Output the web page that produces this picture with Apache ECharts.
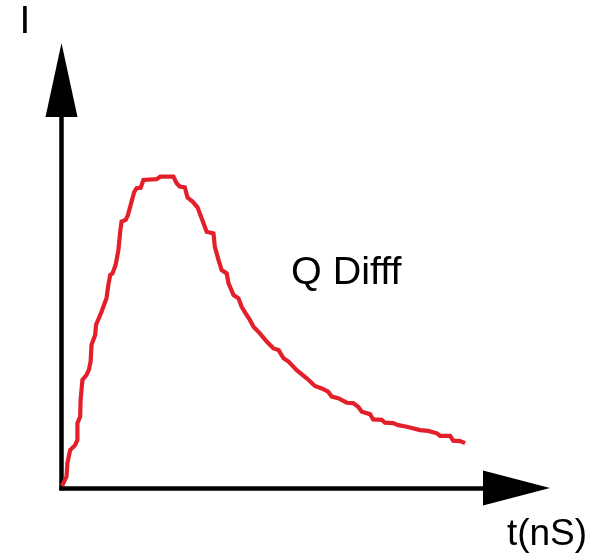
<!DOCTYPE html>
<html>
<head>
<meta charset="utf-8">
<script src="https://cdn.jsdelivr.net/npm/echarts@6/dist/echarts.min.js"></script>
<style>html,body{margin:0;padding:0;background:#fff;}#c{width:604px;height:560px;}</style>
</head>
<body>
<div id="c"></div>
<script>
// time (ns, arbitrary units) and current (arbitrary units)
var tValues = [0.1,1.1,1.3,1.9,3.0,3.5,3.5,4.1,4.2,4.6,5.5,6.0,6.4,6.6,7.4,7.6,8.8,9.9,10.3,10.7,11.2,11.9,12.5,12.9,13.2,14.1,14.6,15.4,16.0,16.5,17.4,18.0,20.9,21.7,24.6,25.3,26.0,27.1,27.7,28.8,29.9,30.8,31.9,33.4,33.7,34.5,35.2,36.3,36.7,37.8,38.9,39.6,40.7,41.4,42.2,43.6,45.1,46.6,47.7,48.8,49.9,51.7,53.9,55.7,57.2,58.6,59.4,60.8,62.7,64.1,65.2,66.0,67.8,68.5,70.4,71.1,72.9,74.0,75.9,78.8,80.6,82.5,83.2,85.4,86.1,87.6,88.7];
var iValues = [0.5,2.8,6.1,9.3,10.5,11.8,15.9,17.5,21.6,26.5,27.7,28.9,31.0,35.1,37.5,40.0,43.2,46.6,49.8,52.2,52.6,54.7,58.3,62.8,65.3,65.7,66.9,70.2,72.6,73.5,73.6,75.5,75.7,76.3,76.3,74.7,73.9,73.7,71.2,70.2,68.8,66.1,62.8,62.4,59.1,55.9,53.4,52.6,50.2,47.3,46.5,44.4,42.4,41.2,39.5,37.9,35.9,34.2,33.8,31.8,31.0,28.9,26.9,25.0,24.4,23.6,22.4,22.0,20.9,20.8,19.9,18.7,18.1,16.8,16.7,16.0,15.9,15.4,15.0,14.2,14.0,13.4,12.8,12.8,11.6,11.5,11.0];
var yLabel = 'I';
var xLabel = 't(nS)';
var curveLabel = 'Q Difff';

var data = tValues.map(function (t, k) { return [t, iValues[k]]; });
var font = '"Liberation Sans", Arial, sans-serif';

var chart = echarts.init(document.getElementById('c'), null, {renderer: 'canvas'});
chart.setOption({
  animation: false,
  backgroundColor: '#ffffff',
  grid: {left: 61.5, right: 87.5, top: 80, bottom: 72, containLabel: false},
  xAxis: {
    type: 'value', min: 0, max: 100,
    axisLine: {show: true, symbol: ['none', 'triangle'], symbolSize: [35, 67],
      lineStyle: {color: '#000', width: 4.5, cap: 'square'}},
    axisTick: {show: false}, axisLabel: {show: false}, splitLine: {show: false}
  },
  yAxis: {
    type: 'value', min: 0, max: 100,
    axisLine: {show: true, symbol: ['none', 'triangle'], symbolSize: [32, 74],
      lineStyle: {color: '#000', width: 4.5, cap: 'square'}},
    axisTick: {show: false}, axisLabel: {show: false}, splitLine: {show: false}
  },
  series: [{
    type: 'line',
    data: data,
    showSymbol: false,
    symbol: 'none',
    lineStyle: {color: '#e3202a', width: 4.2, join: 'miter'},
    z: 5
  }],
  graphic: [
    {type: 'text', x: 25, y: 22.5, style: {text: yLabel, font: '39px ' + font, fill: '#000', textAlign: 'center', textVerticalAlign: 'middle'}},
    {type: 'text', x: 547, y: 535, style: {text: xLabel, font: '37px ' + font, fill: '#000', textAlign: 'center', textVerticalAlign: 'middle'}},
    {type: 'text', x: 291, y: 273.5, style: {text: curveLabel, font: '39.5px ' + font, fill: '#000', textAlign: 'left', textVerticalAlign: 'middle'}}
  ]
});
</script>
</body>
</html>
